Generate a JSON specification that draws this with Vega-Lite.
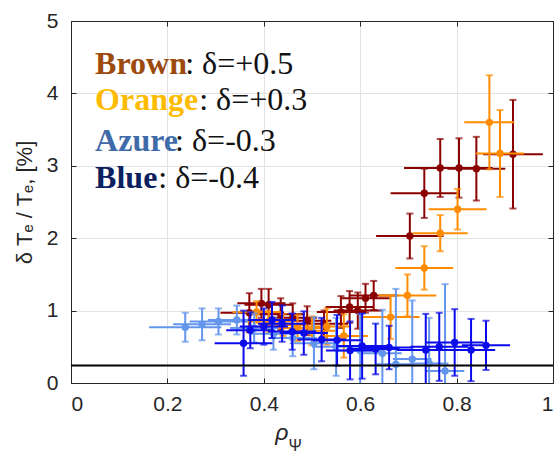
{
  "$schema": "https://vega.github.io/schema/vega-lite/v6.json",
  "width": 482,
  "height": 362,
  "autosize": "none",
  "padding": {"left": 71, "top": 21, "right": 2, "bottom": 70},
  "background": "white",
  "resolve": {"axis": {"x": "independent", "y": "independent"}},
  "config": {
    "view": {"stroke": "#262626", "strokeWidth": 1},
    "axis": {
      "labelFont": "Liberation Sans",
      "labelFontSize": 21,
      "labelColor": "#262626",
      "gridColor": "#e2e2e2",
      "gridWidth": 1,
      "domainColor": "#262626",
      "domainWidth": 1,
      "tickColor": "#262626",
      "titleFont": "Liberation Sans",
      "titleFontSize": 22,
      "titleFontWeight": "normal",
      "titleColor": "#262626"
    }
  },
  "datasets": {
    "brown": [
      {"rho": 0.37, "val": 0.97, "xe": 0.06, "ye": 0.27},
      {"rho": 0.395, "val": 1.1, "xe": 0.05, "ye": 0.2},
      {"rho": 0.41, "val": 1.08, "xe": 0.05, "ye": 0.22},
      {"rho": 0.435, "val": 0.95, "xe": 0.05, "ye": 0.22},
      {"rho": 0.46, "val": 0.9, "xe": 0.05, "ye": 0.2},
      {"rho": 0.49, "val": 0.86, "xe": 0.05, "ye": 0.2},
      {"rho": 0.525, "val": 0.82, "xe": 0.05, "ye": 0.18},
      {"rho": 0.56, "val": 0.98, "xe": 0.05, "ye": 0.22},
      {"rho": 0.578, "val": 1.05, "xe": 0.05, "ye": 0.22},
      {"rho": 0.595, "val": 1.0, "xe": 0.05, "ye": 0.25},
      {"rho": 0.611, "val": 1.17, "xe": 0.05, "ye": 0.2},
      {"rho": 0.628, "val": 1.21, "xe": 0.05, "ye": 0.2},
      {"rho": 0.703, "val": 2.03, "xe": 0.07, "ye": 0.31},
      {"rho": 0.733, "val": 2.62, "xe": 0.07, "ye": 0.34},
      {"rho": 0.766, "val": 2.97, "xe": 0.075, "ye": 0.4},
      {"rho": 0.805, "val": 2.97, "xe": 0.07, "ye": 0.41},
      {"rho": 0.841, "val": 2.96, "xe": 0.06, "ye": 0.44},
      {"rho": 0.917, "val": 3.16, "xe": 0.062, "ye": 0.75}
    ],
    "orange": [
      {"rho": 0.385, "val": 0.98, "xe": 0.05, "ye": 0.15},
      {"rho": 0.41, "val": 0.85, "xe": 0.05, "ye": 0.15},
      {"rho": 0.44, "val": 0.8, "xe": 0.05, "ye": 0.15},
      {"rho": 0.47, "val": 0.76, "xe": 0.05, "ye": 0.18},
      {"rho": 0.5, "val": 0.72, "xe": 0.05, "ye": 0.2},
      {"rho": 0.531, "val": 0.78, "xe": 0.05, "ye": 0.25},
      {"rho": 0.566, "val": 0.65, "xe": 0.05, "ye": 0.3},
      {"rho": 0.663, "val": 0.91, "xe": 0.06, "ye": 0.3},
      {"rho": 0.698, "val": 1.21, "xe": 0.06, "ye": 0.29},
      {"rho": 0.733, "val": 1.59, "xe": 0.06, "ye": 0.3},
      {"rho": 0.766, "val": 2.07, "xe": 0.057, "ye": 0.25},
      {"rho": 0.802, "val": 2.4, "xe": 0.06, "ye": 0.28},
      {"rho": 0.868, "val": 3.6, "xe": 0.052, "ye": 0.65},
      {"rho": 0.89, "val": 3.17, "xe": 0.05, "ye": 0.6}
    ],
    "azure": [
      {"rho": 0.237, "val": 0.77, "xe": 0.075, "ye": 0.2},
      {"rho": 0.272, "val": 0.81, "xe": 0.06, "ye": 0.22},
      {"rho": 0.306, "val": 0.85, "xe": 0.06, "ye": 0.18},
      {"rho": 0.344, "val": 0.87, "xe": 0.06, "ye": 0.2},
      {"rho": 0.38, "val": 0.76, "xe": 0.05, "ye": 0.2},
      {"rho": 0.42, "val": 0.68, "xe": 0.05, "ye": 0.22},
      {"rho": 0.46, "val": 0.62, "xe": 0.05, "ye": 0.25},
      {"rho": 0.504, "val": 0.55, "xe": 0.05, "ye": 0.36},
      {"rho": 0.55, "val": 0.5, "xe": 0.05, "ye": 0.4},
      {"rho": 0.6, "val": 0.45, "xe": 0.05, "ye": 0.5},
      {"rho": 0.646, "val": 0.41, "xe": 0.04, "ye": 0.6},
      {"rho": 0.674, "val": 0.26, "xe": 0.04, "ye": 1.04},
      {"rho": 0.708, "val": 0.33, "xe": 0.04, "ye": 0.81},
      {"rho": 0.743, "val": 0.27, "xe": 0.04, "ye": 0.63},
      {"rho": 0.776, "val": 0.165, "xe": 0.04, "ye": 1.2}
    ],
    "blue": [
      {"rho": 0.358, "val": 0.55, "xe": 0.06, "ye": 0.45},
      {"rho": 0.372, "val": 0.73, "xe": 0.05, "ye": 0.25},
      {"rho": 0.4, "val": 0.78, "xe": 0.05, "ye": 0.25},
      {"rho": 0.417, "val": 0.87, "xe": 0.05, "ye": 0.25},
      {"rho": 0.438, "val": 0.82, "xe": 0.05, "ye": 0.25},
      {"rho": 0.459, "val": 0.71, "xe": 0.05, "ye": 0.25},
      {"rho": 0.483, "val": 0.69, "xe": 0.05, "ye": 0.3},
      {"rho": 0.52, "val": 0.6, "xe": 0.05, "ye": 0.3},
      {"rho": 0.552, "val": 0.59, "xe": 0.05, "ye": 0.35},
      {"rho": 0.579, "val": 0.45, "xe": 0.05, "ye": 0.4},
      {"rho": 0.604, "val": 0.51, "xe": 0.05, "ye": 0.45},
      {"rho": 0.632, "val": 0.47, "xe": 0.05, "ye": 0.35},
      {"rho": 0.66, "val": 0.49, "xe": 0.05, "ye": 0.3},
      {"rho": 0.736, "val": 0.455, "xe": 0.06, "ye": 0.5},
      {"rho": 0.764, "val": 0.5, "xe": 0.06, "ye": 0.47},
      {"rho": 0.796, "val": 0.56, "xe": 0.06, "ye": 0.46},
      {"rho": 0.83, "val": 0.455, "xe": 0.05, "ye": 0.43},
      {"rho": 0.861, "val": 0.52, "xe": 0.05, "ye": 0.34}
    ]
  },
  "layer": [
    {
      "data": {"name": "brown"},
      "mark": {"type": "point", "opacity": 0, "size": 1},
      "encoding": {
        "x": {"field": "rho", "type": "quantitative", "scale": {"domain": [0, 1], "nice": false},
          "axis": {"title": null, "orient": "bottom", "values": [0, 0.2, 0.4, 0.6, 0.8, 1], "format": "~g", "grid": true, "ticks": false, "domain": true, "labelPadding": 10}},
        "y": {"field": "val", "type": "quantitative", "scale": {"domain": [0, 5], "nice": false},
          "axis": {"title": "δ Tₑ / Tₑ, [%]", "orient": "left", "values": [0, 1, 2, 3, 4, 5], "grid": true, "ticks": false, "domain": true, "labelPadding": 13, "titlePadding": 10}}
      }
    },
    {
      "data": {"name": "brown"},
      "mark": {"type": "point", "opacity": 0, "size": 1},
      "encoding": {
        "x": {"field": "rho", "type": "quantitative", "scale": {"domain": [0, 1], "nice": false},
          "axis": {"title": null, "orient": "top", "values": [0, 0.2, 0.4, 0.6, 0.8, 1], "labels": false, "grid": false, "ticks": true, "tickSize": -5, "domain": true}},
        "y": {"field": "val", "type": "quantitative", "scale": {"domain": [0, 5], "nice": false},
          "axis": {"title": null, "orient": "right", "values": [0, 1, 2, 3, 4, 5], "labels": false, "grid": false, "ticks": true, "tickSize": -5, "domain": true}}
      }
    },
    {
      "data": {"name": "brown"},
      "mark": {"type": "point", "opacity": 0, "size": 1},
      "encoding": {
        "x": {"field": "rho", "type": "quantitative", "scale": {"domain": [0, 1], "nice": false},
          "axis": {"title": null, "orient": "bottom", "values": [0, 0.2, 0.4, 0.6, 0.8, 1], "labels": false, "grid": false, "ticks": true, "tickSize": -5, "domain": false}},
        "y": {"field": "val", "type": "quantitative", "scale": {"domain": [0, 5], "nice": false},
          "axis": {"title": null, "orient": "left", "values": [0, 1, 2, 3, 4, 5], "labels": false, "grid": false, "ticks": true, "tickSize": -5, "domain": false}}
      }
    },
    {
      "data": {"name": "brown"},
      "mark": {"type": "errorbar", "color": "#8b0000", "thickness": 2, "clip": true},
      "encoding": {
        "x": {"field": "rho", "type": "quantitative", "scale": {"domain": [0, 1], "nice": false}, "axis": null},
        "xError": {"field": "xe"},
        "y": {"field": "val", "type": "quantitative", "scale": {"domain": [0, 5], "nice": false}, "axis": null}
      }
    },
    {
      "data": {"name": "brown"},
      "mark": {"type": "errorbar", "color": "#8b0000", "thickness": 2, "ticks": {"size": 7, "thickness": 2}, "clip": true},
      "encoding": {
        "x": {"field": "rho", "type": "quantitative", "scale": {"domain": [0, 1], "nice": false}, "axis": null},
        "y": {"field": "val", "type": "quantitative", "scale": {"domain": [0, 5], "nice": false}, "axis": null},
        "yError": {"field": "ye"}
      }
    },
    {
      "data": {"name": "brown"},
      "mark": {"type": "point", "filled": true, "opacity": 1, "color": "#8b0000", "size": 55, "clip": true},
      "encoding": {
        "x": {"field": "rho", "type": "quantitative", "scale": {"domain": [0, 1], "nice": false}, "axis": null},
        "y": {"field": "val", "type": "quantitative", "scale": {"domain": [0, 5], "nice": false}, "axis": null}
      }
    },
    {
      "data": {"name": "orange"},
      "mark": {"type": "errorbar", "color": "#ff8c00", "thickness": 2, "clip": true},
      "encoding": {
        "x": {"field": "rho", "type": "quantitative", "scale": {"domain": [0, 1], "nice": false}, "axis": null},
        "xError": {"field": "xe"},
        "y": {"field": "val", "type": "quantitative", "scale": {"domain": [0, 5], "nice": false}, "axis": null}
      }
    },
    {
      "data": {"name": "orange"},
      "mark": {"type": "errorbar", "color": "#ff8c00", "thickness": 2, "ticks": {"size": 7, "thickness": 2}, "clip": true},
      "encoding": {
        "x": {"field": "rho", "type": "quantitative", "scale": {"domain": [0, 1], "nice": false}, "axis": null},
        "y": {"field": "val", "type": "quantitative", "scale": {"domain": [0, 5], "nice": false}, "axis": null},
        "yError": {"field": "ye"}
      }
    },
    {
      "data": {"name": "orange"},
      "mark": {"type": "point", "filled": true, "opacity": 1, "color": "#ff8c00", "size": 55, "clip": true},
      "encoding": {
        "x": {"field": "rho", "type": "quantitative", "scale": {"domain": [0, 1], "nice": false}, "axis": null},
        "y": {"field": "val", "type": "quantitative", "scale": {"domain": [0, 5], "nice": false}, "axis": null}
      }
    },
    {
      "data": {"name": "azure"},
      "mark": {"type": "errorbar", "color": "#6495ed", "thickness": 2, "clip": true},
      "encoding": {
        "x": {"field": "rho", "type": "quantitative", "scale": {"domain": [0, 1], "nice": false}, "axis": null},
        "xError": {"field": "xe"},
        "y": {"field": "val", "type": "quantitative", "scale": {"domain": [0, 5], "nice": false}, "axis": null}
      }
    },
    {
      "data": {"name": "azure"},
      "mark": {"type": "errorbar", "color": "#6495ed", "thickness": 2, "ticks": {"size": 7, "thickness": 2}, "clip": true},
      "encoding": {
        "x": {"field": "rho", "type": "quantitative", "scale": {"domain": [0, 1], "nice": false}, "axis": null},
        "y": {"field": "val", "type": "quantitative", "scale": {"domain": [0, 5], "nice": false}, "axis": null},
        "yError": {"field": "ye"}
      }
    },
    {
      "data": {"name": "azure"},
      "mark": {"type": "point", "filled": true, "opacity": 1, "color": "#6495ed", "size": 55, "clip": true},
      "encoding": {
        "x": {"field": "rho", "type": "quantitative", "scale": {"domain": [0, 1], "nice": false}, "axis": null},
        "y": {"field": "val", "type": "quantitative", "scale": {"domain": [0, 5], "nice": false}, "axis": null}
      }
    },
    {
      "data": {"name": "blue"},
      "mark": {"type": "errorbar", "color": "#0a0aeb", "thickness": 2, "clip": true},
      "encoding": {
        "x": {"field": "rho", "type": "quantitative", "scale": {"domain": [0, 1], "nice": false}, "axis": null},
        "xError": {"field": "xe"},
        "y": {"field": "val", "type": "quantitative", "scale": {"domain": [0, 5], "nice": false}, "axis": null}
      }
    },
    {
      "data": {"name": "blue"},
      "mark": {"type": "errorbar", "color": "#0a0aeb", "thickness": 2, "ticks": {"size": 7, "thickness": 2}, "clip": true},
      "encoding": {
        "x": {"field": "rho", "type": "quantitative", "scale": {"domain": [0, 1], "nice": false}, "axis": null},
        "y": {"field": "val", "type": "quantitative", "scale": {"domain": [0, 5], "nice": false}, "axis": null},
        "yError": {"field": "ye"}
      }
    },
    {
      "data": {"name": "blue"},
      "mark": {"type": "point", "filled": true, "opacity": 1, "color": "#0a0aeb", "size": 55, "clip": true},
      "encoding": {
        "x": {"field": "rho", "type": "quantitative", "scale": {"domain": [0, 1], "nice": false}, "axis": null},
        "y": {"field": "val", "type": "quantitative", "scale": {"domain": [0, 5], "nice": false}, "axis": null}
      }
    },
    {
      "data": {"values": [{}]},
      "mark": {"type": "rule", "color": "black", "strokeWidth": 2},
      "encoding": {"y": {"datum": 0.24, "scale": {"domain": [0, 5], "nice": false}, "axis": null}}
    },
    {
      "data": {"values": [{}]},
      "mark": {"type": "text", "align": "left", "baseline": "alphabetic", "font": "Liberation Serif", "fontSize": 32, "fontWeight": "bold", "color": "#9c4a0e"},
      "encoding": {"x": {"datum": 0.05, "axis": null}, "y": {"datum": 4.27, "axis": null}, "text": {"value": "Brown"}}
    },
    {
      "data": {"values": [{}]},
      "mark": {"type": "text", "align": "left", "baseline": "alphabetic", "font": "Liberation Serif", "fontSize": 32, "color": "#111111"},
      "encoding": {"x": {"datum": 0.237, "axis": null}, "y": {"datum": 4.27, "axis": null}, "text": {"value": ": δ=+0.5"}}
    },
    {
      "data": {"values": [{}]},
      "mark": {"type": "text", "align": "left", "baseline": "alphabetic", "font": "Liberation Serif", "fontSize": 32, "fontWeight": "bold", "color": "#ffbb00"},
      "encoding": {"x": {"datum": 0.05, "axis": null}, "y": {"datum": 3.77, "axis": null}, "text": {"value": "Orange"}}
    },
    {
      "data": {"values": [{}]},
      "mark": {"type": "text", "align": "left", "baseline": "alphabetic", "font": "Liberation Serif", "fontSize": 32, "color": "#111111"},
      "encoding": {"x": {"datum": 0.266, "axis": null}, "y": {"datum": 3.77, "axis": null}, "text": {"value": ": δ=+0.3"}}
    },
    {
      "data": {"values": [{}]},
      "mark": {"type": "text", "align": "left", "baseline": "alphabetic", "font": "Liberation Serif", "fontSize": 32, "fontWeight": "bold", "color": "#3f6ca8"},
      "encoding": {"x": {"datum": 0.05, "axis": null}, "y": {"datum": 3.2, "axis": null}, "text": {"value": "Azure"}}
    },
    {
      "data": {"values": [{}]},
      "mark": {"type": "text", "align": "left", "baseline": "alphabetic", "font": "Liberation Serif", "fontSize": 32, "color": "#111111"},
      "encoding": {"x": {"datum": 0.216, "axis": null}, "y": {"datum": 3.2, "axis": null}, "text": {"value": ": δ=-0.3"}}
    },
    {
      "data": {"values": [{}]},
      "mark": {"type": "text", "align": "left", "baseline": "alphabetic", "font": "Liberation Serif", "fontSize": 32, "fontWeight": "bold", "color": "#0c2060"},
      "encoding": {"x": {"datum": 0.05, "axis": null}, "y": {"datum": 2.69, "axis": null}, "text": {"value": "Blue"}}
    },
    {
      "data": {"values": [{}]},
      "mark": {"type": "text", "align": "left", "baseline": "alphabetic", "font": "Liberation Serif", "fontSize": 32, "color": "#111111"},
      "encoding": {"x": {"datum": 0.181, "axis": null}, "y": {"datum": 2.69, "axis": null}, "text": {"value": ": δ=-0.4"}}
    },
    {
      "data": {"values": [{}]},
      "mark": {"type": "text", "align": "left", "baseline": "alphabetic", "font": "Liberation Sans", "fontSize": 23, "fontStyle": "italic", "color": "#262626"},
      "encoding": {"x": {"datum": 0.424, "axis": null}, "y": {"datum": -0.786, "axis": null}, "text": {"value": "ρ"}}
    },
    {
      "data": {"values": [{}]},
      "mark": {"type": "text", "align": "left", "baseline": "alphabetic", "font": "Liberation Sans", "fontSize": 16, "color": "#262626"},
      "encoding": {"x": {"datum": 0.451, "axis": null}, "y": {"datum": -0.94, "axis": null}, "text": {"value": "Ψ"}}
    }
  ]
}
